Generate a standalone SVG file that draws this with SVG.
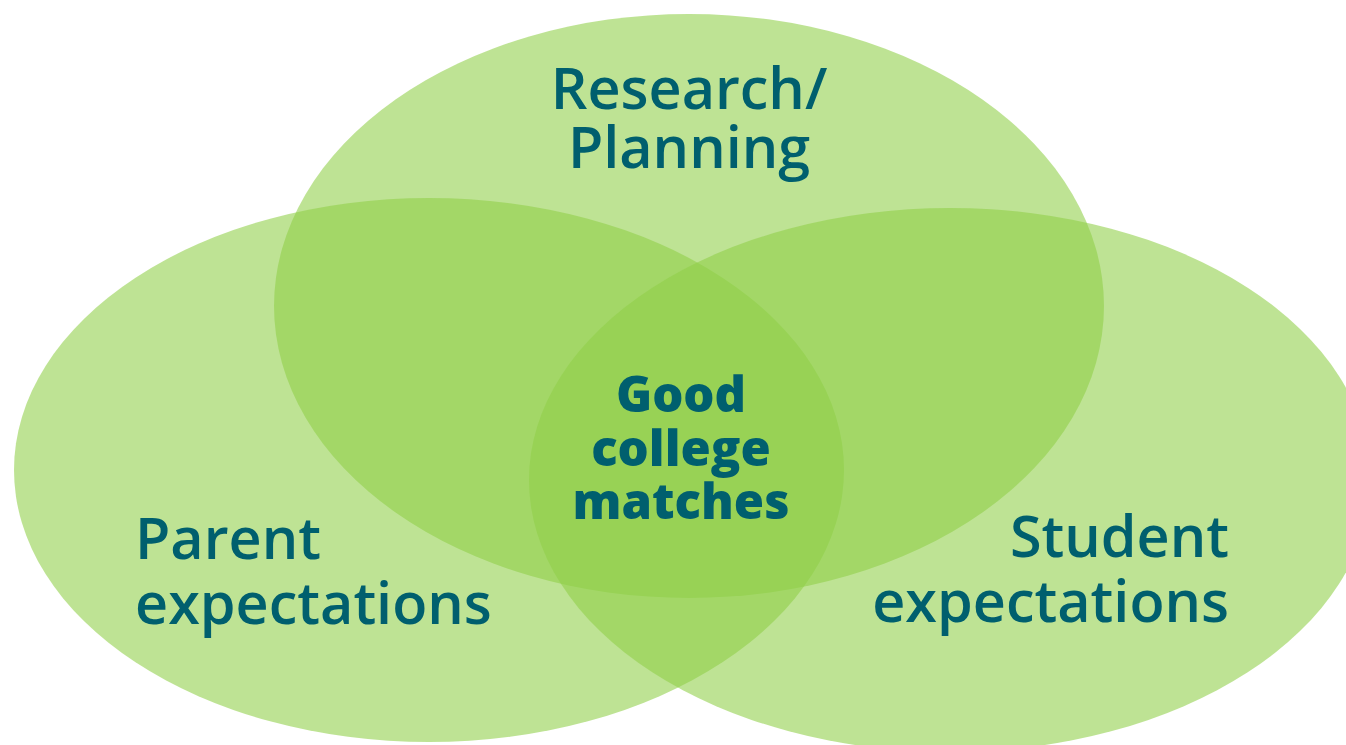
<svg xmlns="http://www.w3.org/2000/svg" width="1346" height="745" viewBox="0 0 1346 745">
<style>
.c{fill:#90CF48;fill-opacity:0.585}
.t{font-family:"Open Sans","Noto Sans",sans-serif;fill:#005F6E;font-size:57.5px;font-weight:600}
.b{font-family:"Open Sans","Noto Sans",sans-serif;fill:#005F6E;font-size:49px;font-weight:800}
</style>
<rect width="1346" height="745" fill="#ffffff"/>
<g id="top"><ellipse class="c" cx="689" cy="306" rx="415" ry="292"/></g>
<g id="left"><ellipse class="c" cx="429" cy="470" rx="415" ry="272"/></g>
<g id="right"><ellipse class="c" cx="950" cy="480" rx="421" ry="272"/></g>
<g id="connectors"/>
<g id="labels">
<text class="t" x="689" y="109" text-anchor="middle">Research/</text>
<text class="t" x="689" y="168" text-anchor="middle">Planning</text>
<text class="t" x="135" y="559">Parent</text>
<text class="t" x="135" y="624">expectations</text>
<text class="t" x="1229" y="557" text-anchor="end">Student</text>
<text class="t" x="1229" y="622" text-anchor="end">expectations</text>
<text class="b" x="681" y="412" text-anchor="middle">Good</text>
<text class="b" x="681" y="466" text-anchor="middle">college</text>
<text class="b" x="681" y="519" text-anchor="middle">matches</text>
</g>
</svg>
